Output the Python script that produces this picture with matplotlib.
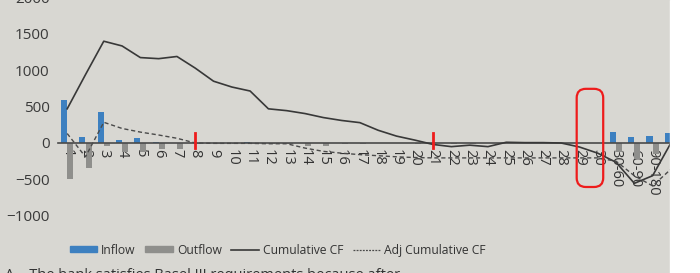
import numpy as np
import matplotlib
matplotlib.use('Agg')
import matplotlib.pyplot as plt
from matplotlib.patches import Patch, Rectangle, FancyBboxPatch
from matplotlib.lines import Line2D

plt.rcParams['font.family'] = ['Open Sans', 'DejaVu Sans']

# categories: days 1..30 then the longer buckets
categories = [str(d) for d in range(1, 31)] + ['30-60', '60-90', '90-180', '180-365']

inflow = [590, 80, 430, 40, 65, 20, 5, 0, 0, 5, 10, 0, 0, 0, 0, 0, 0,
          0, 0, 0, 0, 0, 0, 0, 0, 0, 0, 0, 0, 0, 150, 80, 95, 135]
outflow = [-500, -350, -40, -120, -120, -80, -80, -20, -10, -10, -10, -10, -10,
           -40, -40, -10, -15, -5, -5, -10, -5, -20, -10, -5, 0, 0, 0, 0, 0, 0,
           -120, -215, -150, 0]
cumulative = [470, 940, 1400, 1335, 1175, 1160, 1190, 1030, 850, 770, 715, 470,
              445, 405, 350, 310, 280, 175, 95, 40, -20, -50, -30, -50, 10, 5,
              5, 0, -55, -140, -265, -555, -450, 0]
adj_cumulative = [130, -190, 285, 200, 150, 110, 65, 0, -5, -5, -5, -10, -10,
                  -70, -115, -140, -160, -175, -190, -200, -205, -205, -205, -205,
                  -205, -205, -205, -205, -205, -205, -250, -450, -590, -360]

# red pen marks somebody drew on the printout
marked = ['8', '21']
circled = ['29', '30']

paper = '#d8d7d2'
fig = plt.figure(figsize=(7, 2.73), dpi=100, facecolor=paper)
ax = fig.add_axes([0.0829, 0.2099, 0.8886, 0.7989])
ax.set_facecolor('none')

x = np.arange(len(categories))
ax.bar(x - 0.17, inflow, width=0.33, color='#3d80c0', zorder=2)
ax.bar(x + 0.17, outflow, width=0.33, color='#8f8f8c', zorder=2)
ax.plot(x, cumulative, color='#383838', lw=1.2, zorder=3)
ax.plot(x, adj_cumulative, color='#4a4a4a', lw=1.0, ls=(0, (3, 2)), zorder=3)

ax.set_xlim(-0.5, 33.5)
ax.set_ylim(-1000, 2000)
for s in ['top', 'right', 'left']:
    ax.spines[s].set_visible(False)
ax.spines['bottom'].set_position(('data', 0))
ax.spines['bottom'].set_color('#4a4a4a')
ax.spines['bottom'].set_linewidth(1.2)
ax.spines['bottom'].set_zorder(2.5)

ax.set_xticks(x, categories, rotation=-90, fontsize=10.5, color='#333333')
ax.set_yticks(np.arange(-1000, 2001, 500))
ax.tick_params(axis='x', length=0, pad=4)
ax.tick_params(axis='y', length=0, pad=6, labelsize=11, labelcolor='#3a3a3a')

# red marks
for c in marked:
    i = categories.index(c)
    ax.plot([i, i], [-70, 140], color='#ee1c1c', lw=2, zorder=5, clip_on=False)
i0 = categories.index(circled[0])
i1 = categories.index(circled[1])
ax.add_patch(FancyBboxPatch((i0 - 0.05, -580), i1 - i0 + 0.25, 1300,
                            boxstyle='round,pad=0.1,rounding_size=0.5',
                            mutation_aspect=251, fill=False, ec='#ee1c1c',
                            lw=1.6, zorder=5, clip_on=False))

handles = [Patch(color='#3d80c0'), Patch(color='#8f8f8c'),
           Line2D([], [], color='#383838', lw=1.2),
           Line2D([], [], color='#4a4a4a', lw=0.9, ls=(0, (1.5, 1)))]
labels = ['Inflow', 'Outflow', 'Cumulative CF', 'Adj Cumulative CF']
fig.legend(handles, labels, loc='center', bbox_to_anchor=(0.397, 0.084), ncol=4,
           frameon=False, fontsize=8.7, handlelength=2.25, handleheight=0.4,
           handletextpad=0.35, columnspacing=0.8, labelcolor='#333333')

# page text cut at the bottom of the photo
fig.text(0.007, 0.02, 'A    The bank satisfies Basel III requirements because after',
         fontsize=10.5, color='#333333', va='top')

# white strip where the photo ends
fig.add_artist(Rectangle((0.957, 0), 0.05, 1, transform=fig.transFigure,
                         color='white', zorder=10))

fig.savefig('out.png', dpi=100, facecolor=paper)
